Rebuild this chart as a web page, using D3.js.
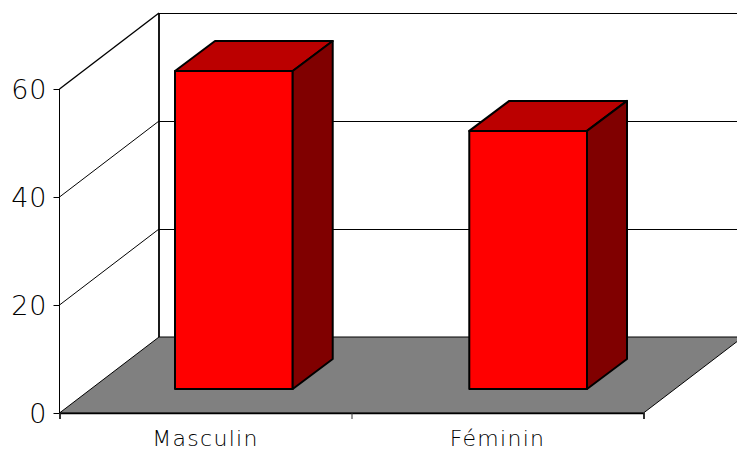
<!DOCTYPE html>
<html>
<head>
<meta charset="utf-8">
<script src="https://cdn.jsdelivr.net/npm/d3@7"></script>
<style>
html,body{margin:0;padding:0;background:#fff;overflow:hidden}
svg{display:block}
text{font-family:"DejaVu Sans",sans-serif;fill:#000}
</style>
</head>
<body>
<script>
var categories = ['Masculin', 'Féminin'];
var values = [58.9, 47.8];
var yTicks = [0, 20, 40, 60];

var width = 737, height = 451;
// 3d offsets of the chart box and of the front face of the bars
var depth = {x: 99.5, y: -76}, barFront = {y: -24}, barSide = {x: 40, y: -30};

var svg = d3.select('body').append('svg').attr('width', width).attr('height', height);

var y = d3.scaleLinear().domain([0, 60]).range([413, 89]);
var xBand = d3.scaleBand().domain(categories).range([59.5, 643.5]);
var xEdge = d3.scaleLinear().domain([0, categories.length]).range([59.5, 643.5]);
var xBar = d3.scaleBand().domain(categories).range([175, 587]).paddingInner(0.6).paddingOuter(0);

var x0 = xEdge(0), x1 = xEdge(categories.length), yMax = y.domain()[1];
var pts = function(a){ return a.map(function(p){ return p.join(','); }).join(' '); };

// floor
svg.append('polygon')
  .attr('points', pts([[x0, y(0)], [x0 + depth.x, y(0) + depth.y], [x1 + depth.x, y(0) + depth.y], [x1, y(0)]]))
  .attr('fill', '#808080').attr('stroke', '#000').attr('stroke-width', 1);

// gridlines on side wall and back wall
yTicks.forEach(function(v){
  var top = v == yMax, bottom = v == 0;
  var w = top ? 1.4 : 1;
  if (!bottom) {
    svg.append('line').attr('x1', x0).attr('y1', y(v))
      .attr('x2', x0 + depth.x).attr('y2', y(v) + depth.y)
      .attr('stroke', '#000').attr('stroke-width', w);
    svg.append('line').attr('x1', x0 + depth.x).attr('y1', y(v) + depth.y + 0.5)
      .attr('x2', width).attr('y2', y(v) + depth.y + 0.5)
      .attr('stroke', '#000').attr('stroke-width', 1);
  }
});
// back wall left edge
svg.append('line').attr('x1', x0 + depth.x).attr('y1', y(0) + depth.y)
  .attr('x2', x0 + depth.x).attr('y2', y(yMax) + depth.y)
  .attr('stroke', '#000').attr('stroke-width', 1.8);

// bars
var bars = svg.selectAll('g.bar').data(categories).enter().append('g').attr('class', 'bar');
bars.each(function(c, i){
  var g = d3.select(this), l = xBar(c), r = l + xBar.bandwidth();
  var t = y(values[i]) + barFront.y, b = y(0) + barFront.y;
  g.selectAll('polygon').data([
    {f: '#ff0000', p: [[l, t], [r, t], [r, b], [l, b]]},
    {f: '#bb0000', p: [[l, t], [l + barSide.x, t + barSide.y], [r + barSide.x, t + barSide.y], [r, t]]},
    {f: '#800000', p: [[r, t], [r + barSide.x, t + barSide.y], [r + barSide.x, b + barSide.y], [r, b]]}
  ]).enter().append('polygon')
    .attr('points', function(d){ return pts(d.p); })
    .attr('fill', function(d){ return d.f; })
    .attr('stroke', '#000').attr('stroke-width', 2).attr('stroke-linejoin', 'round');
});

// y axis on the front edge
var yAxis = svg.append('g').attr('transform', 'translate(' + x0 + ',0)')
  .call(d3.axisLeft(y).tickValues(yTicks).tickSize(6).tickPadding(6).tickFormat(d3.format('d')));
yAxis.selectAll('path').attr('stroke', '#000').attr('stroke-width', 1).attr('d', 'M0,' + y(0) + 'V' + y(yMax));
yAxis.selectAll('line').attr('stroke', '#000');
yAxis.selectAll('text').attr('font-size', 27).attr('font-weight', 200).attr('fill', '#000')
  .style('font-family', '"DejaVu Sans",sans-serif').attr('letter-spacing', 1).attr('dy', '0.36em');

// x axis, ticks sit on the band edges
var xTicks = svg.append('g').attr('transform', 'translate(0,' + y(0) + ')')
  .call(d3.axisBottom(xEdge).tickValues(d3.range(categories.length + 1)).tickSize(6).tickFormat(''));
xTicks.selectAll('path').attr('stroke', '#000').attr('stroke-width', 1.6);
xTicks.selectAll('line').attr('stroke', '#333');

var xLabels = svg.append('g').attr('transform', 'translate(0,' + y(0) + ')')
  .call(d3.axisBottom(xBand).tickSize(0).tickPadding(17));
xLabels.select('path').remove();
xLabels.selectAll('text').attr('font-size', 22).attr('font-weight', 200).attr('fill', '#000')
  .style('font-family', '"DejaVu Sans",sans-serif').attr('letter-spacing', 1.3);
</script>
</body>
</html>
